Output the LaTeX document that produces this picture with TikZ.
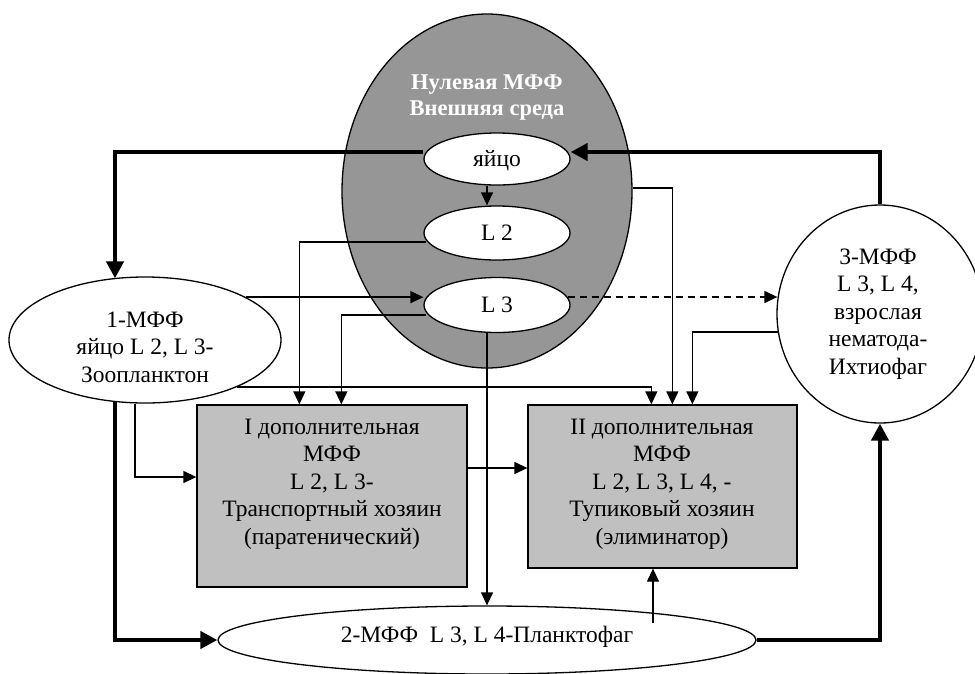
\documentclass[tikz,border=0pt]{standalone}
\usepackage{fontspec}
\setmainfont{Liberation Serif}
\usetikzlibrary{arrows.meta,calc,shapes.geometric}
\definecolor{zerogray}{RGB}{150,150,150}
\definecolor{boxgray}{RGB}{192,192,192}
\begin{document}
\begin{tikzpicture}[x=1pt,y=-1pt,
  thinline/.style={line width=1.3pt},
  thickline/.style={line width=4.6pt},
  tip/.style={-{Triangle[length=13pt,width=12pt]}},
  bigtip/.style={-{Triangle[length=17pt,width=17pt]}},
  ell/.style={ellipse, draw, line width=1.3pt, fill=white, inner sep=0pt},
  boxnode/.style={rectangle, draw, line width=1.3pt, fill=boxgray, inner sep=0pt},
  txt/.style={align=center, font=\fontsize{23.5}{27.5}\selectfont, inner sep=0pt}
]
\useasboundingbox (0,0) rectangle (975,673);

% zero MFF
\node[ell, fill=zerogray, minimum width=290pt, minimum height=354pt] (zero) at (487,191) {};
\node[txt, text=white, font=\fontsize{22.5}{26}\selectfont\bfseries] (zerotitle) at (487,98) {Нулевая МФФ\\Внешняя среда};
\node[ell, minimum width=146pt, minimum height=52pt] (egg) at (497,159) {};
\node[txt] (eggtext) at (497,161) {яйцо};
\node[ell, minimum width=146pt, minimum height=54pt] (l2) at (497,233) {};
\node[txt] (l2text) at (497,233) {L 2};
\node[ell, minimum width=146pt, minimum height=55pt] (l3) at (497,305) {};
\node[txt] (l3text) at (497,305) {L 3};

% other MFF
\node[ell, minimum width=272pt, minimum height=126pt] (mff1) at (145,340) {};
\node[txt] (mff1text) at (145,347) {1-МФФ\\яйцо L 2, L 3-\\Зоопланктон};
\node[ell, minimum width=206pt, minimum height=218pt] (mff3) at (880,314) {};
\node[txt] (mff3text) at (878,314) {3-МФФ\\ L 3, L 4,\\взрослая\\нематода-\\Ихтиофаг};
\node[ell, minimum width=538pt, minimum height=68pt] (mff2) at (487,640) {};
\node[txt] (mff2text) at (487,637) {2-МФФ~~L 3, L 4-Планктофаг};

% boxes
\node[boxnode, minimum width=270pt, minimum height=182pt] (box1) at (332,496) {};
\node[txt] (box1text) at (332,484) {I дополнительная\\МФФ\\L 2, L 3-\\Транспортный хозяин\\(паратенический)};
\node[boxnode, minimum width=269pt, minimum height=163pt] (box2) at (662.5,486.5) {};
\node[txt] (box2text) at (662,484) {II дополнительная\\МФФ\\L 2, L 3, L 4, -\\Тупиковый хозяин\\(элиминатор)};

% thick connectors
\draw[thickline, bigtip] ($(egg.west)+(0,-7)$) -| ($(mff1.north)+(-30,2)$);
\draw[thickline, bigtip] (mff3.north) |- ($(egg.east)+(0,-7)$);
\draw[thickline, bigtip] ($(mff1.south)+(-30,-2)$) |- (mff2.west);
\draw[thickline, bigtip] (mff2.east) -| (mff3.south);

% thin connectors
\draw[thinline, tip] ($(egg.south)+(-10,0)$) -- ($(l2.north)+(-10,0)$);
\draw[thinline, tip] ($(l2.west)+(3,9)$) -| ($(box1.north west)+(103,0)$);
\draw[thinline, tip] ($(l3.west)+(3,10)$) -| ($(box1.north west)+(145,0)$);
\draw[thinline, tip] (mff1.23.5) -- (mff1.23.5 -| l3.west);
\draw[thinline, tip] ($(mff1.south)+(-10,0)$) |- ($(box1.west)+(0,-19)$);
\draw[thinline, tip] (mff1.-27.6) -| ($(box2.north west)+(124,0)$);
\draw[thinline, tip] ($(zero.east)+(0,-3)$) -| ($(box2.north west)+(145,0)$);
\draw[thinline, tip] (mff3.190) -| ($(box2.north west)+(165,0)$);
\draw[thinline, tip] ($(l3.south)+(-10,0)$) -- (mff2.north);
\draw[thinline, tip] ($(box1.east)+(0,-28)$) -- ($(box2.west)+(0,-18.5)$);
\draw[thinline, tip] ($(mff2.center)+(166,-17)$) -- ($(box2.south)+(-9.5,0)$);
\draw[thinline, tip, dash pattern=on 7pt off 5pt] ($(l3.east)+(-3,-8)$) -- ($(mff3.west)+(1,-17)$);
\end{tikzpicture}
\end{document}
